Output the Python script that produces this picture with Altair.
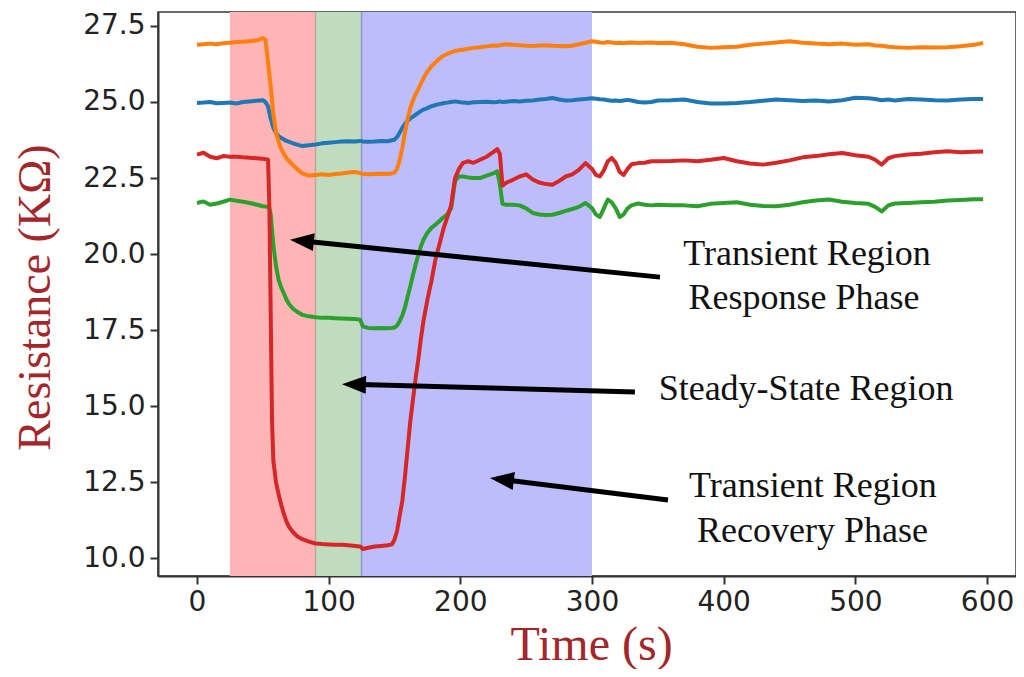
import altair as alt
import pandas as pd

# ---------------- data ----------------
time_s = [0, 5, 10, 15, 20, 25, 30, 35, 40, 45,
          50, 52, 54, 55, 56, 57, 58, 60, 62, 64,
          66, 68, 70, 73, 76, 80, 85, 90, 95, 100,
          105, 110, 115, 120, 124, 126, 130, 135, 140, 145,
          148, 150, 152, 154, 156, 158, 160, 162, 164, 166,
          168, 170, 172, 175, 178, 181, 184, 187, 190, 193,
          196, 199, 202, 206, 210, 215, 220, 225, 228, 230,
          232, 235, 240, 245, 250, 255, 260, 265, 270, 275,
          280, 285, 290, 295, 300, 303, 306, 309, 312, 315,
          318, 321, 324, 327, 330, 335, 340, 345, 350, 360,
          370, 380, 390, 400, 410, 420, 430, 440, 450, 460,
          470, 480, 490, 500, 510, 515, 520, 525, 530, 540,
          550, 560, 570, 580, 590, 597]

blue = [24.97, 24.98, 25.00, 24.96, 24.97, 24.98, 24.95, 25.00, 25.02, 25.04,
        25.06, 25.00, 24.85, 24.65, 24.45, 24.30, 24.15, 23.98, 23.88, 23.82,
        23.77, 23.72, 23.69, 23.64, 23.60, 23.55, 23.58, 23.60, 23.64, 23.66,
        23.68, 23.70, 23.71, 23.70, 23.72, 23.70, 23.69, 23.70, 23.72, 23.71,
        23.74, 23.76, 23.85, 24.00, 24.15, 24.28, 24.38, 24.46, 24.52, 24.58,
        24.64, 24.70, 24.75, 24.80, 24.86, 24.90, 24.93, 24.96, 24.98, 25.00,
        25.02, 25.00, 24.98, 24.97, 24.99, 25.00, 25.01, 24.99, 25.00, 25.02,
        25.00, 25.01, 25.03, 25.02, 25.04, 25.05, 25.08, 25.10, 25.13, 25.08,
        25.05, 25.06, 25.08, 25.10, 25.12, 25.11, 25.09, 25.08, 25.06, 25.04,
        25.05, 25.03, 25.05, 25.07, 25.05, 25.00, 24.98, 25.00, 25.05, 25.06,
        25.08, 25.00, 24.95, 24.95, 24.97, 25.00, 25.04, 25.08, 25.06, 25.03,
        25.05, 25.02, 25.06, 25.14, 25.12, 25.10, 25.06, 25.08, 25.05, 25.10,
        25.08, 25.06, 25.05, 25.08, 25.10, 25.10]

orange = [26.88, 26.90, 26.92, 26.90, 26.93, 26.95, 26.97, 26.98, 27.00, 27.02,
          27.10, 27.05, 26.30, 25.90, 25.50, 25.05, 24.60, 24.00, 23.70, 23.45,
          23.30, 23.15, 23.05, 22.92, 22.80, 22.65, 22.58, 22.60, 22.62, 22.60,
          22.63, 22.65, 22.68, 22.70, 22.66, 22.63, 22.62, 22.63, 22.64, 22.63,
          22.65, 22.68, 22.80, 23.10, 23.50, 24.00, 24.45, 24.80, 25.05, 25.25,
          25.42, 25.60, 25.78, 26.00, 26.17, 26.30, 26.42, 26.52, 26.58, 26.63,
          26.68, 26.70, 26.72, 26.75, 26.78, 26.80, 26.83, 26.86, 26.85, 26.87,
          26.88, 26.90, 26.88, 26.87, 26.85, 26.84, 26.86, 26.87, 26.85, 26.84,
          26.83, 26.85, 26.90, 26.95, 27.00, 26.98, 26.96, 26.95, 26.97, 26.96,
          26.94, 26.95, 26.93, 26.95, 26.96, 26.94, 26.95, 26.96, 26.94, 26.95,
          26.90, 26.82, 26.78, 26.80, 26.82, 26.88, 26.92, 26.96, 27.00, 26.95,
          26.92, 26.90, 26.92, 26.88, 26.90, 26.86, 26.85, 26.82, 26.80, 26.78,
          26.80, 26.79, 26.80, 26.83, 26.88, 26.94]

green = [21.68, 21.73, 21.62, 21.66, 21.72, 21.79, 21.75, 21.72, 21.68, 21.63,
         21.57, 21.56, 21.55, 21.50, 21.30, 20.80, 20.30, 19.60, 19.15, 18.90,
         18.70, 18.50, 18.35, 18.20, 18.10, 18.00, 17.95, 17.92, 17.90, 17.90,
         17.89, 17.88, 17.87, 17.86, 17.84, 17.62, 17.57, 17.56, 17.57, 17.56,
         17.57, 17.58, 17.65, 17.80, 17.98, 18.25, 18.60, 18.94, 19.30, 19.65,
         19.95, 20.25, 20.47, 20.70, 20.86, 20.96, 21.08, 21.20, 21.30, 21.50,
         22.40, 22.55, 22.55, 22.52, 22.50, 22.50, 22.58, 22.65, 22.72, 22.30,
         21.65, 21.62, 21.62, 21.60, 21.50, 21.35, 21.30, 21.28, 21.29, 21.35,
         21.42, 21.48, 21.55, 21.68, 21.51, 21.30, 21.22, 21.50, 21.79, 21.70,
         21.50, 21.22, 21.30, 21.50, 21.60, 21.66, 21.62, 21.60, 21.62, 21.60,
         21.60, 21.57, 21.65, 21.68, 21.70, 21.62, 21.58, 21.57, 21.62, 21.70,
         21.76, 21.79, 21.72, 21.68, 21.65, 21.55, 21.40, 21.60, 21.66, 21.68,
         21.70, 21.72, 21.76, 21.78, 21.80, 21.80]

red = [23.27, 23.33, 23.20, 23.15, 23.22, 23.20, 23.20, 23.18, 23.17, 23.15,
       23.13, 23.12, 23.10, 21.50, 18.00, 14.50, 13.20, 12.50, 12.10, 11.75,
       11.45, 11.20, 11.02, 10.85, 10.72, 10.62, 10.54, 10.48, 10.46, 10.45,
       10.44, 10.44, 10.42, 10.40, 10.38, 10.30, 10.34, 10.38, 10.40, 10.42,
       10.45, 10.60, 10.90, 11.40, 11.90, 12.70, 13.60, 14.50, 15.20, 15.90,
       16.50, 17.20, 17.80, 18.50, 19.10, 19.80, 20.30, 20.80, 21.20, 21.60,
       22.50, 22.80, 23.00, 23.05, 23.00, 23.10, 23.20, 23.35, 23.45, 23.30,
       22.25, 22.35, 22.44, 22.55, 22.62, 22.45, 22.35, 22.30, 22.28, 22.40,
       22.55, 22.62, 22.77, 22.99, 22.80, 22.60, 22.55, 22.75, 23.05, 23.16,
       23.00, 22.70, 22.60, 22.80, 22.95, 22.99, 23.00, 23.05, 23.05, 23.06,
       23.08, 23.05, 23.10, 23.16, 23.05, 22.98, 22.94, 23.00, 23.08, 23.18,
       23.22, 23.28, 23.32, 23.25, 23.20, 23.10, 22.94, 23.15, 23.22, 23.27,
       23.30, 23.35, 23.38, 23.35, 23.36, 23.37]

series_names = ["blue", "orange", "green", "red"]
series_colors = ["#1f77b4", "#ff7f0e", "#2ca02c", "#d62728"]

region_start = [25, 90, 125]
region_end = [90, 125, 300]
region_fill = ["#ffb5b5", "#bfdcbf", "#bdbdfc"]

edge_t = [90, 125]
edge_color = ["#c0a898", "#8a9ad6"]

arrow_tip_t = [70.6, 110.1, 222.5]
arrow_tip_r = [20.47, 15.72, 12.63]
arrow_neck_t = [84.3, 123.8, 236.2]
arrow_neck_r = [20.41, 15.71, 12.56]
arrow_tail_t = [351.6, 332.6, 357.7]
arrow_tail_r = [19.24, 15.46, 11.91]
arrow_angle = [5.8, 1.6, 7.0]

label_lines = ["Transient Region", "Response Phase", "Steady-State Region",
               "Transient Region", "Recovery Phase"]
label_t = [463.3, 461.0, 462.6, 467.8, 467.4]
label_r = [19.64, 18.19, 15.20, 12.01, 10.53]

x_ticks = [0, 100, 200, 300, 400, 500, 600]
y_ticks = [10.0, 12.5, 15.0, 17.5, 20.0, 22.5, 25.0, 27.5]

# ---------------- tables ----------------
values_by_series = {"blue": blue, "orange": orange, "green": green, "red": red}
rows = []
for order, name in enumerate(series_names):
    for t, v in zip(time_s, values_by_series[name]):
        rows.append({"t": t, "r": v, "series": name, "ord": order})
lines_df = pd.DataFrame(rows)

regions_df = pd.DataFrame({"t0": region_start, "t1": region_end, "fill": region_fill})
edges_df = pd.DataFrame({"t": edge_t, "c": edge_color})
arrows_df = pd.DataFrame({"tt": arrow_tip_t, "tr": arrow_tip_r,
                          "nt": arrow_neck_t, "nr": arrow_neck_r,
                          "at": arrow_tail_t, "ar": arrow_tail_r,
                          "ang": arrow_angle})
labels_df = pd.DataFrame({"txt": label_lines, "t": label_t, "r": label_r})

W, H = 858, 564
xscale = alt.Scale(domain=[-29.6, 622.0], nice=False, zero=False)
yscale = alt.Scale(domain=[9.41, 27.96], nice=False, zero=False)

x_axis = alt.Axis(values=x_ticks, format="d", grid=False,
                  labelFont="DejaVu Sans", labelFontSize=28, labelColor="#222222",
                  labelPadding=4, labelFlush=False,
                  tickColor="#333333", tickSize=8, tickWidth=2,
                  domainColor="#333333", domainWidth=2,
                  title="Time (s)", titleFont="Liberation Serif", titleFontSize=48,
                  titleFontWeight="normal", titleColor="#a3262a",
                  titleX=433, titleY=83, titleAlign="center", titleBaseline="alphabetic")
y_axis = alt.Axis(values=y_ticks, format=".1f", grid=False,
                  labelFont="DejaVu Sans", labelFontSize=28, labelColor="#222222",
                  labelPadding=5,
                  tickColor="#333333", tickSize=8, tickWidth=2,
                  domainColor="#333333", domainWidth=2,
                  title="Resistance (KΩ)", titleFont="Liberation Serif", titleFontSize=46,
                  titleFontWeight="normal", titleColor="#a3262a",
                  titleX=-109, titleY=285, titleAlign="center", titleBaseline="alphabetic",
                  titleAngle=270)

regions = alt.Chart(regions_df).mark_rect().encode(
    x=alt.X("t0:Q", scale=xscale, axis=x_axis),
    x2="t1:Q",
    y=alt.value(0),
    y2=alt.value(H),
    color=alt.Color("fill:N", scale=None),
)

edges = alt.Chart(edges_df).mark_rule(strokeWidth=1.5).encode(
    x=alt.X("t:Q", scale=xscale),
    y=alt.value(0),
    y2=alt.value(H),
    color=alt.Color("c:N", scale=None),
)

lines = alt.Chart(lines_df).mark_line(strokeWidth=4, strokeJoin="round").encode(
    x=alt.X("t:Q", scale=xscale),
    y=alt.Y("r:Q", scale=yscale, axis=y_axis),
    color=alt.Color("series:N", scale=alt.Scale(domain=series_names, range=series_colors),
                    legend=None),
    detail="series:N",
)

shafts = alt.Chart(arrows_df).mark_rule(strokeWidth=5, color="black", strokeCap="butt").encode(
    x=alt.X("at:Q", scale=xscale), y=alt.Y("ar:Q", scale=yscale),
    x2="nt:Q", y2="nr:Q",
)

heads = alt.Chart(arrows_df).mark_point(
    shape="M0,0L2.4,-0.9L2.4,0.9Z", filled=True, size=400, color="black", opacity=1,
    strokeWidth=0,
).encode(
    x=alt.X("tt:Q", scale=xscale), y=alt.Y("tr:Q", scale=yscale),
    angle=alt.Angle("ang:Q", scale=None),
)

labels = alt.Chart(labels_df).mark_text(
    font="Liberation Serif", fontSize=36, color="#111111",
    align="center", baseline="alphabetic",
).encode(
    x=alt.X("t:Q", scale=xscale), y=alt.Y("r:Q", scale=yscale),
    text="txt:N",
)

chart = alt.layer(regions, edges, lines, shafts, heads, labels).properties(
    width=W, height=H,
    autosize=alt.AutoSizeParams(type="none"),
    padding={"left": 150, "top": 4, "right": 0, "bottom": 93},
).configure_view(stroke="#3a3a3a", strokeWidth=1.5)

chart.save("out.html", embed_options={"renderer": "svg", "actions": False})
